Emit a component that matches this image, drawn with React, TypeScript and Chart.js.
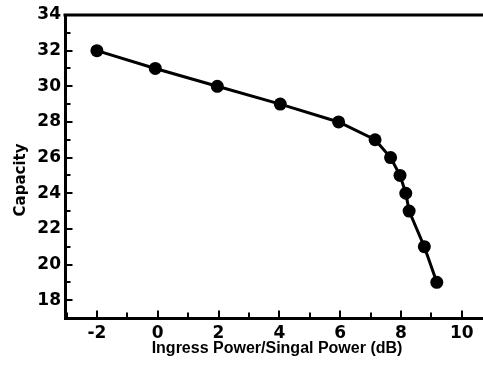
import React, { useEffect, useRef } from "react";
import { Chart, registerables } from "chart.js";

Chart.register(...registerables);

const xValues = [-2, -0.08, 1.96, 4.03, 5.95, 7.15, 7.66, 7.97, 8.16, 8.27, 8.77, 9.18];
const yValues = [32, 31, 30, 29, 28, 27, 26, 25, 24, 23, 21, 19];
const xTickLabels = [-2, 0, 2, 4, 6, 8, 10];
const yTickLabels = [18, 20, 22, 24, 26, 28, 30, 32, 34];
const xTitle = "Ingress Power/Singal Power (dB)";
const yTitle = "Capacity";

const framePlugin = {
  id: "frame",
  afterDraw(chart: any) {
    const { ctx, chartArea } = chart;
    const xs = chart.scales.x;
    const ys = chart.scales.y;
    ctx.save();
    ctx.strokeStyle = "#000";
    ctx.lineWidth = 3;
    ctx.beginPath();
    ctx.moveTo(chartArea.left - 1.5, chartArea.top);
    ctx.lineTo(chart.width, chartArea.top);
    ctx.stroke();
    ctx.lineWidth = 2;
    for (let v = Math.ceil(xs.min); v <= Math.floor(xs.max); v++) {
      const px = Math.round(xs.getPixelForValue(v));
      const len = v % 2 === 0 ? 6 : 4;
      ctx.beginPath();
      ctx.moveTo(px, chartArea.bottom);
      ctx.lineTo(px, chartArea.bottom - len - 1.5);
      ctx.stroke();
    }
    for (let v = Math.ceil(ys.min) + 1; v <= Math.floor(ys.max) - 1; v++) {
      const py = Math.round(ys.getPixelForValue(v));
      const len = v % 2 === 0 ? 6 : 4;
      ctx.beginPath();
      ctx.moveTo(chartArea.left, py);
      ctx.lineTo(chartArea.left + len + 1.5, py);
      ctx.stroke();
    }
    ctx.fillStyle = "#000";
    ctx.font = "bold 16px 'Liberation Sans'";
    ctx.textAlign = "center";
    ctx.textBaseline = "alphabetic";
    ctx.fillText(xTitle, 277, 353);
    ctx.save();
    ctx.translate(24.5, 180);
    ctx.rotate(-Math.PI / 2);
    ctx.font = "bold 15px 'DejaVu Sans'";
    ctx.fillText(yTitle, 0, 0);
    ctx.restore();
    ctx.restore();
  },
};

export default function App() {
  const ref = useRef<HTMLCanvasElement>(null);
  useEffect(() => {
    document.body.style.margin = "0";
    const chart = new Chart(ref.current as HTMLCanvasElement, {
      type: "scatter",
      data: {
        datasets: [
          {
            data: xValues.map((x, i) => ({ x, y: yValues[i] })),
            showLine: true,
            borderColor: "#000",
            backgroundColor: "#000",
            borderWidth: 3,
            pointRadius: 6.5,
            pointHoverRadius: 6.5,
            pointBorderWidth: 0,
          },
        ],
      },
      options: {
        animation: false,
        responsive: false,
        devicePixelRatio: 1,
        layout: { autoPadding: false, padding: { top: 15, right: 0, left: 0, bottom: 0 } },
        plugins: { legend: { display: false }, tooltip: { enabled: false } },
        scales: {
          x: {
            type: "linear",
            min: -3.05,
            max: 10.7,
            afterBuildTicks: (s: any) => {
              s.ticks = xTickLabels.map((v) => ({ value: v }));
            },
            afterFit: (s: any) => {
              s.height = 53;
              s.paddingRight = 0;
              s.paddingLeft = 0;
            },
            grid: { display: false, drawTicks: false },
            border: { display: true, color: "#000", width: 3 },
            ticks: {
              padding: 5,
              color: "#000",
              font: { family: "DejaVu Sans", size: 17, weight: "bold" },
              maxRotation: 0,
            },
          },
          y: {
            type: "linear",
            min: 17,
            max: 34,
            afterBuildTicks: (s: any) => {
              s.ticks = yTickLabels.map((v) => ({ value: v }));
            },
            afterFit: (s: any) => {
              s.width = 65;
              s.paddingTop = 0;
              s.paddingBottom = 0;
            },
            grid: { display: false, drawTicks: false },
            border: { display: true, color: "#000", width: 3 },
            ticks: {
              padding: 4,
              color: "#000",
              font: { family: "DejaVu Sans", size: 17, weight: "bold" },
            },
          },
        },
      },
      plugins: [framePlugin],
    });
    return () => chart.destroy();
  }, []);
  return <canvas ref={ref} width={483} height={371} style={{ display: "block" }} />;
}
